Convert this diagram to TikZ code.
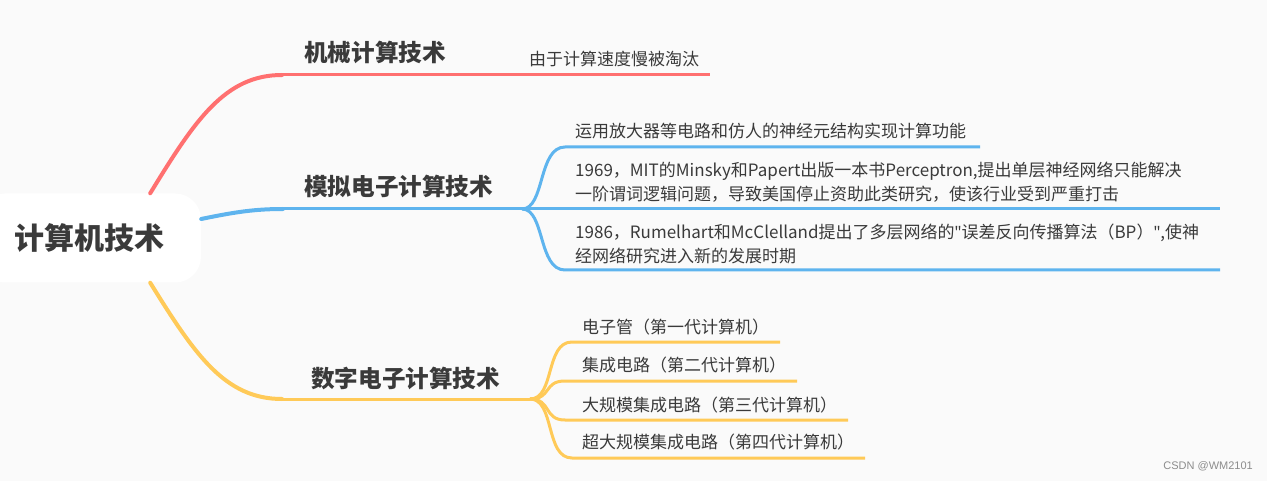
\documentclass[tikz,border=0pt]{standalone}
\usepackage{fontspec}
\setmainfont{Noto Sans CJK SC}
\newfontfamily\markfont{Liberation Sans}
\newfontfamily\quotefont{Noto Sans}
\usetikzlibrary{positioning}
\definecolor{bggray}{RGB}{250,250,250}
\definecolor{txtdark}{RGB}{58,58,58}
\definecolor{mindred}{RGB}{255,112,112}
\definecolor{mindblue}{RGB}{94,180,238}
\definecolor{mindyellow}{RGB}{255,202,88}
\newcommand{\dq}{{\quotefont"}}
\tikzset{
  rootbox/.style={fill=white, rounded corners=26pt, minimum width=222pt, minimum height=89pt,
                  font=\fontsize{30}{36}\selectfont\bfseries, text=txtdark},
  topic/.style={anchor=west, inner sep=0pt, font=\fontsize{23.6}{28}\selectfont\bfseries, text=txtdark},
  leaf/.style={anchor=west, inner sep=0pt, align=left, font=\fontsize{17}{24}\selectfont, text=txtdark},
  branch/.style={line width=4pt, line cap=round},
  twig/.style={line width=3pt},
}

\begin{document}
\begin{tikzpicture}[x=1pt, y=-1pt]
  \fill[bggray] (0,0) rectangle (1267,481);
  \useasboundingbox (0,0) rectangle (1267,481);

  \node[rootbox] (root) at (90,238) {计算机技术};

  % branch titles
  \node[topic] (mech) at (304,52) {机械计算技术};
  \node[topic] (anal) at (304,186) {模拟电子计算技术};
  \node[topic] (digi) at (311,378) {数字电子计算技术};

  \coordinate (mechfork) at (520,75);
  \coordinate (analfork) at (522,209);
  \coordinate (digifork) at (530,399);

  % leaves
  \node[leaf] (mech1) at (529,59) {由于计算速度慢被淘汰};
  \node[leaf] (anal1) at (575,131) {运用放大器等电路和仿人的神经元结构实现计算功能};
  \node[leaf] (anal2) at (575,182) {1969，MIT的Minsky和Papert出版一本书Perceptron,提出单层神经网络只能解决\\一阶谓词逻辑问题，导致美国停止资助此类研究，使该行业受到严重打击};
  \node[leaf] (anal3) at (575,244) {1986，Rumelhart和McClelland提出了多层网络的\dq 误差反向传播算法（BP）\dq,使神\\经网络研究进入新的发展时期};
  \node[leaf] (digi1) at (582,327) {电子管（第一代计算机）};
  \node[leaf] (digi2) at (582,365) {集成电路（第二代计算机）};
  \node[leaf] (digi3) at (582,405) {大规模集成电路（第三代计算机）};
  \node[leaf] (digi4) at (582,442) {超大规模集成电路（第四代计算机）};

  \coordinate (mech1e) at (710,75);
  \coordinate (anal1e) at (980,147);
  \coordinate (anal2e) at (1220,209);
  \coordinate (anal3e) at (1220,270);
  \coordinate (digi1e) at (780,342);
  \coordinate (digi2e) at (797,381);
  \coordinate (digi3e) at (848,420);
  \coordinate (digi4e) at (865,458);

  % root to branches
  \draw[branch, mindred] ([xshift=-51pt]root.north east) .. controls (195,120) and (225,75) .. (282,75);
  \draw[twig, mindred] (282,75) -- (mechfork) -- (mech1e);
  \draw[branch, mindblue] ([yshift=19pt]root.east) .. controls (235,212) and (255,209) .. (283,209);
  \draw[twig, mindblue] (283,209) -- (analfork);
  \draw[branch, mindyellow] ([xshift=-51pt]root.south east) .. controls (195,355) and (225,399) .. (282,399);
  \draw[twig, mindyellow] (282,399) -- (digifork);

  % branches to leaves
  \draw[twig, mindblue] (analfork) .. controls (545,209) and (538,147) .. (565,147) -- (anal1e);
  \draw[twig, mindblue] (analfork) -- (anal2e);
  \draw[twig, mindblue] (analfork) .. controls (545,209) and (538,270) .. (565,270) -- (anal3e);

  \draw[twig, mindyellow] (digifork) .. controls (555,399) and (545,342) .. (572,342) -- (digi1e);
  \draw[twig, mindyellow] (digifork) .. controls (552,399) and (543,381) .. (565,381) -- (digi2e);
  \draw[twig, mindyellow] (digifork) .. controls (552,399) and (543,420) .. (565,420) -- (digi3e);
  \draw[twig, mindyellow] (digifork) .. controls (555,399) and (545,458) .. (572,458) -- (digi4e);

  \node[anchor=east, inner sep=0pt, font=\markfont\fontsize{11}{13}\selectfont, text=black!45] (mark) at (1253,466) {CSDN @WM2101};
\end{tikzpicture}
\end{document}
